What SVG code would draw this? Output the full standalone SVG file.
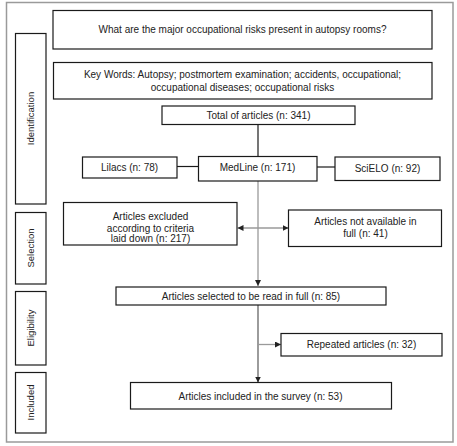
<svg xmlns="http://www.w3.org/2000/svg" width="457" height="446" viewBox="0 0 457 446">
<style>
.frame{fill:#fff;stroke:#9a9a9a;stroke-width:1.5}
.box{fill:#fff;stroke:#1a1a1a;stroke-width:1.2}
.t{font-family:"Liberation Sans",Arial,sans-serif;font-size:10px;fill:#222;text-anchor:middle}
.side{font-family:"Liberation Sans",Arial,sans-serif;font-size:9.5px;fill:#222;text-anchor:middle}
.blk{stroke:#1a1a1a;stroke-width:1.2;fill:none}
.gry{stroke:#9a9a9a;stroke-width:1.3;fill:none}
.dgry{stroke:#666;stroke-width:1.3;fill:none}
</style>
<defs>
<marker id="ah" viewBox="0 0 10 10" refX="10" refY="5" markerWidth="6" markerHeight="6" markerUnits="userSpaceOnUse" orient="auto-start-reverse">
<path d="M0,0 L10,5 L0,10 z" fill="#222"/>
</marker>
</defs>
<rect class="frame" x="6.5" y="2.5" width="446.5" height="439.5"/>
<g id="side-identification"><rect class="box" x="15.5" y="33.5" width="30.5" height="170.5"/><text class="side" transform="translate(34,118.5) rotate(-90)">Identification</text></g>
<g id="side-selection"><rect class="box" x="15.5" y="212.5" width="30.5" height="71.5"/><text class="side" transform="translate(34,248) rotate(-90)">Selection</text></g>
<g id="side-eligibility"><rect class="box" x="15.5" y="291.5" width="30.5" height="73.5"/><text class="side" transform="translate(34,328) rotate(-90)">Eligibility</text></g>
<g id="side-included"><rect class="box" x="15.5" y="372.5" width="30.5" height="60.5"/><text class="side" transform="translate(34,402.5) rotate(-90)">Included</text></g>
<g id="connectors">
<line class="blk" x1="258" y1="124.5" x2="258" y2="156.5"/>
<line class="blk" x1="177" y1="166.5" x2="198" y2="166.5"/>
<line class="blk" x1="317" y1="167" x2="335" y2="167"/>
<line class="gry" x1="258" y1="181" x2="258" y2="286" marker-end="url(#ah)"/>
<line class="gry" x1="237.5" y1="228" x2="288.5" y2="228" marker-start="url(#ah)" marker-end="url(#ah)"/>
<line class="dgry" x1="258" y1="305" x2="258" y2="382.5" marker-end="url(#ah)"/>
<line class="gry" x1="258" y1="344.5" x2="281" y2="344.5" marker-end="url(#ah)"/>
</g>
<g id="question"><rect class="box" x="53" y="10.5" width="379" height="38.5"/><text class="t" x="242.5" y="33">What are the major occupational risks present in autopsy rooms?</text></g>
<g id="keywords"><rect class="box" x="53.5" y="62.5" width="378.5" height="36.5"/><text class="t" x="242.5" y="78">Key Words: Autopsy; postmortem examination; accidents, occupational;</text><text class="t" x="242.5" y="90.5">occupational diseases; occupational risks</text></g>
<g id="total"><rect class="box" x="162" y="106" width="193" height="18.5"/><text class="t" x="258.5" y="118.5">Total of articles (n: 341)</text></g>
<g id="lilacs"><rect class="box" x="82.5" y="157" width="94.5" height="21"/><text class="t" x="129.5" y="170.5">Lilacs (n: 78)</text></g>
<g id="medline"><rect class="box" x="198.5" y="156.5" width="118.5" height="24.5"/><text class="t" x="257.5" y="170.5">MedLine (n: 171)</text></g>
<g id="scielo"><rect class="box" x="335" y="157" width="105" height="23.5"/><text class="t" x="387.5" y="171.5">SciELO (n: 92)</text></g>
<g id="excluded"><rect class="box" x="63.5" y="202.5" width="173.5" height="42.5"/><text class="t" x="150.5" y="220">Articles excluded</text><text class="t" x="150.5" y="231.5">according to criteria</text><text class="t" x="150.5" y="243" dy="-1">laid down (n: 217)</text></g>
<g id="not-available"><rect class="box" x="288.5" y="210" width="153" height="36.5"/><text class="t" x="365.5" y="225">Articles not available in</text><text class="t" x="365.5" y="236.5">full (n: 41)</text></g>
<g id="selected"><rect class="box" x="116" y="287" width="270" height="18"/><text class="t" x="251" y="299.5">Articles selected to be read in full (n: 85)</text></g>
<g id="repeated"><rect class="box" x="281" y="333.5" width="161" height="22.5"/><text class="t" x="361.5" y="348">Repeated articles (n: 32)</text></g>
<g id="included"><rect class="box" x="130.5" y="382.5" width="261" height="26.5"/><text class="t" x="260.5" y="399.5">Articles included in the survey (n: 53)</text></g>
</svg>
